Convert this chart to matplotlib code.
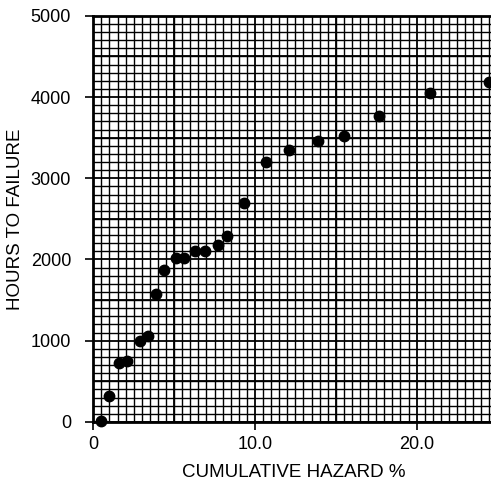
import numpy as np
import matplotlib.pyplot as plt
from matplotlib.ticker import MultipleLocator

# cumulative hazard (%) and hours to failure
hazard = [0.5, 1.0, 1.6, 2.1, 2.9, 3.4, 3.9, 4.4, 5.1, 5.6, 6.3, 6.9,
          7.7, 8.3, 9.3, 10.7, 12.1, 13.9, 15.5, 17.7, 20.8, 24.5]
hours = [10, 320, 730, 750, 1000, 1060, 1580, 1870, 2020, 2020, 2100, 2110,
         2180, 2290, 2700, 3200, 3350, 3460, 3520, 3770, 4050, 4190]

x_ticks = [0, 10, 20]
x_labels = ["0", "10.0", "20.0"]
y_ticks = [0, 1000, 2000, 3000, 4000, 5000]

plt.rcParams["font.family"] = ["Liberation Sans", "DejaVu Sans"]

fig = plt.figure(figsize=(4.91, 4.8), dpi=100)
ax = fig.add_axes([0.190, 0.121, 0.815, 0.846])

ax.set_xlim(0, 24.75)
ax.set_ylim(0, 5000)

# graph-paper grid
ax.xaxis.set_minor_locator(MultipleLocator(0.5))
ax.yaxis.set_minor_locator(MultipleLocator(100))
ax.grid(which="minor", color="black", lw=1.0)
for v in np.arange(0, 25, 5):
    ax.axvline(v, color="black", lw=1.3)
for v in np.arange(0, 5001, 500):
    ax.axhline(v, color="black", lw=1.3)

ax.plot(hazard, hours, "o", color="black", ms=7.5, zorder=5, clip_on=False)

ax.set_xticks(x_ticks)
ax.set_xticklabels(x_labels)
ax.set_yticks(y_ticks)
ax.tick_params(which="minor", length=0)
ax.tick_params(which="major", length=6, width=1.2, labelsize=13, pad=4)
ax.tick_params(axis="y", pad=10)

for side in ["left", "bottom", "top"]:
    ax.spines[side].set_linewidth(2)
ax.spines["right"].set_visible(False)

ax.set_xlabel("CUMULATIVE HAZARD %", fontsize=13.5, labelpad=8)
ax.set_ylabel("HOURS TO FAILURE", fontsize=13.5, labelpad=5)

fig.savefig("out.png", dpi=100)
